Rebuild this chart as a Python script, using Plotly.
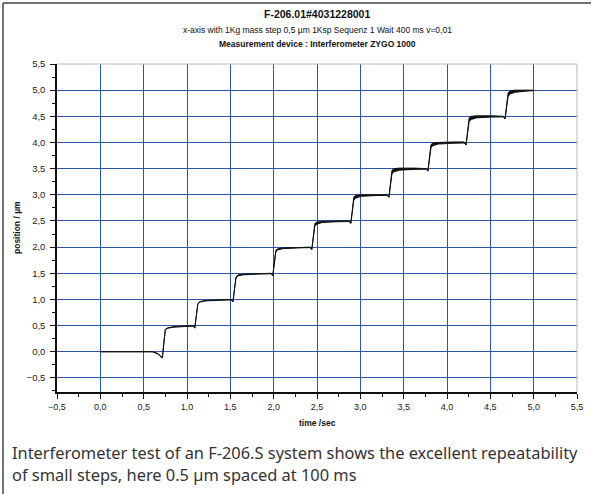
import plotly.graph_objects as go

# ---- data ----
time_s = [0.00, 0.60, 0.66, 0.715, 0.75, 0.78, 0.85, 0.98, 1.07,
          1.09, 1.125, 1.15, 1.21, 1.38, 1.51,
          1.53, 1.565, 1.59, 1.65, 1.82, 1.97,
          1.99, 2.025, 2.05, 2.11, 2.28, 2.42,
          2.44, 2.475, 2.50, 2.56, 2.73, 2.87,
          2.89, 2.925, 2.95, 3.01, 3.18, 3.31,
          3.33, 3.365, 3.39, 3.45, 3.62, 3.76,
          3.78, 3.815, 3.84, 3.90, 4.07, 4.20,
          4.22, 4.255, 4.28, 4.34, 4.51, 4.65,
          4.67, 4.705, 4.73, 4.79, 4.90, 5.00]

pos_low = [0.00, 0.00, -0.04, -0.12, 0.42, 0.45, 0.47, 0.485, 0.49,
           0.45, 0.91, 0.95, 0.97, 0.985, 0.99,
           0.95, 1.41, 1.45, 1.47, 1.485, 1.49,
           1.45, 1.91, 1.95, 1.97, 1.985, 1.99,
           1.95, 2.40, 2.44, 2.47, 2.485, 2.49,
           2.45, 2.90, 2.94, 2.97, 2.985, 2.99,
           2.95, 3.40, 3.44, 3.47, 3.485, 3.49,
           3.45, 3.90, 3.94, 3.97, 3.985, 3.99,
           3.95, 4.40, 4.44, 4.47, 4.485, 4.49,
           4.45, 4.88, 4.93, 4.96, 4.98, 4.99]

pos_high = [0.00, 0.00, -0.03, -0.11, 0.43, 0.46, 0.48, 0.49, 0.50,
            0.46, 0.92, 0.96, 0.98, 0.99, 1.00,
            0.96, 1.43, 1.47, 1.485, 1.49, 1.50,
            1.46, 1.94, 1.97, 1.985, 1.99, 2.00,
            1.96, 2.45, 2.48, 2.49, 2.50, 2.50,
            2.46, 2.96, 2.99, 3.00, 3.00, 3.00,
            2.96, 3.47, 3.50, 3.51, 3.51, 3.50,
            3.46, 3.96, 3.99, 4.00, 4.01, 4.01,
            3.96, 4.47, 4.50, 4.51, 4.51, 4.50,
            4.46, 4.95, 4.99, 5.00, 5.00, 5.00]

x_ticks = [-0.5, 0.0, 0.5, 1.0, 1.5, 2.0, 2.5, 3.0, 3.5, 4.0, 4.5, 5.0, 5.5]
y_ticks = [-0.5, 0.0, 0.5, 1.0, 1.5, 2.0, 2.5, 3.0, 3.5, 4.0, 4.5, 5.0, 5.5]

title_main = "F-206.01#4031228001"
title_sub = "x-axis with 1Kg mass step 0,5 µm 1Ksp Sequenz 1 Wait 400 ms v=0,01"
title_dev = "Measurement device : Interferometer ZYGO 1000"
x_title = "time /sec"
y_title = "position / µm"
caption1 = "Interferometer test of an F-206.S system shows the excellent repeatability"
caption2 = "of small steps, here 0.5 µm spaced at 100 ms"

# ---- figure ----
W, H = 595, 494
L, R, T, B = 57, 18, 64, 102
PW, PH = W - L - R, H - T - B

def px(x):
    return (x - L) / PW

def py(y):
    return (H - B - y) / PH

fig = go.Figure()
fig.add_trace(go.Scatter(x=time_s, y=pos_low, mode="lines",
                         line=dict(color="#111111", width=1.0),
                         showlegend=False, hoverinfo="skip"))
fig.add_trace(go.Scatter(x=time_s, y=pos_high, mode="lines",
                         line=dict(color="#111111", width=1.0),
                         fill="tonexty", fillcolor="#111111",
                         showlegend=False, hoverinfo="skip"))

axis_common = dict(
    showgrid=True, gridcolor="#2f55a8", gridwidth=1,
    zeroline=False, showline=True, linecolor="#111111", linewidth=1.5,
    ticks="outside", ticklen=5, tickwidth=1.2, tickcolor="#111111",
    tickformat=".1f",
    minor=dict(dtick=0.25, ticks="outside", ticklen=3, tickcolor="#111111",
               tickwidth=1.2, showgrid=False),
)

fig.update_xaxes(range=[-0.5, 5.5], tickvals=x_ticks,
                 tickfont=dict(family="Liberation Sans, Arial, sans-serif", size=9, color="#222222"),
                 **axis_common)
fig.update_yaxes(range=[-0.77, 5.5], tickvals=y_ticks, ticklabelstandoff=3,
                 tickfont=dict(family="Liberation Sans, Arial, sans-serif", size=9.5, color="#222222"),
                 **axis_common)

font_chart = "Liberation Sans, Arial, sans-serif"
font_caption = "Noto Sans, Liberation Sans, sans-serif"
ann = []
ann.append(dict(text="<b>" + title_main + "</b>", x=0.5, y=py(14), xref="paper", yref="paper",
                showarrow=False, font=dict(family=font_chart, size=10.5, color="#111111"),
                xanchor="center", yanchor="middle"))
ann.append(dict(text=title_sub, x=0.5, y=py(30), xref="paper", yref="paper",
                showarrow=False, font=dict(family=font_chart, size=8.5, color="#111111"),
                xanchor="center", yanchor="middle"))
ann.append(dict(text="<b>" + title_dev + "</b>", x=0.5, y=py(44), xref="paper", yref="paper",
                showarrow=False, font=dict(family=font_chart, size=8.5, color="#111111"),
                xanchor="center", yanchor="middle"))
ann.append(dict(text="<b>" + y_title + "</b>", x=px(17), y=0.5, xref="paper", yref="paper",
                showarrow=False, textangle=-90,
                font=dict(family=font_chart, size=8.5, color="#111111"),
                xanchor="center", yanchor="middle"))
ann.append(dict(text="<b>" + x_title + "</b>", x=0.5, y=py(423), xref="paper", yref="paper",
                showarrow=False, font=dict(family=font_chart, size=8.5, color="#111111"),
                xanchor="center", yanchor="middle"))
ann.append(dict(text=caption1, x=px(10), y=py(452), xref="paper", yref="paper",
                showarrow=False, font=dict(family=font_caption, size=16.4, color="#333333"),
                xanchor="left", yanchor="middle"))
ann.append(dict(text=caption2, x=px(10), y=py(475), xref="paper", yref="paper",
                showarrow=False, font=dict(family=font_caption, size=16.4, color="#333333"),
                xanchor="left", yanchor="middle"))

shapes = [
    # light plot-area border (top and right)
    dict(type="line", xref="paper", yref="paper", x0=0, x1=1, y0=1, y1=1,
         line=dict(color="#b8b8b8", width=1), layer="above"),
    dict(type="line", xref="paper", yref="paper", x0=1, x1=1, y0=0, y1=1,
         line=dict(color="#b8b8b8", width=1), layer="above"),
    # outer frame (top and left)
    dict(type="line", xref="paper", yref="paper", x0=px(3), x1=px(591), y0=py(3), y1=py(3),
         line=dict(color="#444444", width=1.5), layer="above"),
    dict(type="line", xref="paper", yref="paper", x0=px(3), x1=px(3), y0=py(3), y1=py(494),
         line=dict(color="#444444", width=1.5), layer="above"),
]

fig.update_layout(
    width=W, height=H,
    margin=dict(l=L, r=R, t=T, b=B),
    paper_bgcolor="white", plot_bgcolor="white",
    separators=", ",
    annotations=ann, shapes=shapes,
    showlegend=False,
)

fig.write_html("out.html", config={"displayModeBar": False},
               post_script="document.body.style.margin='0';")
